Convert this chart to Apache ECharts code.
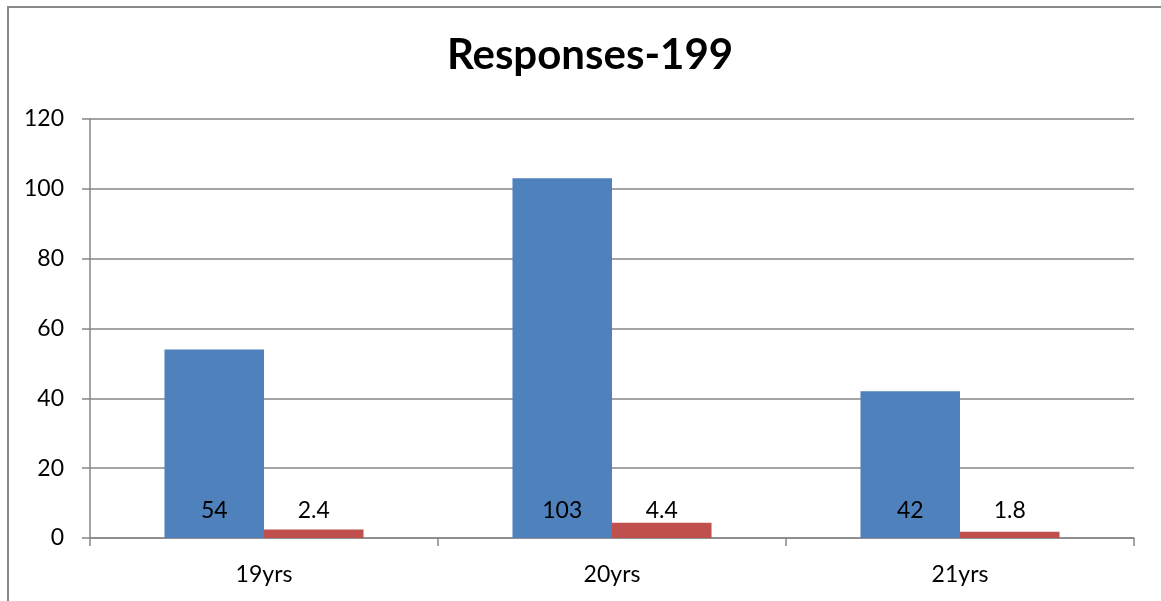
<!DOCTYPE html>
<html>
<head>
<meta charset="utf-8">
<script src="https://cdn.jsdelivr.net/npm/echarts@6/dist/echarts.min.js"></script>
<style>html,body{margin:0;padding:0;background:#fff}#c{width:1161px;height:601px}</style>
</head>
<body>
<div id="c"></div>
<script>
var categories = ['19yrs', '20yrs', '21yrs'];
var seriesA = [54, 103, 42];
var seriesB = [2.4, 4.4, 1.8];
var yTicks = [0, 20, 40, 60, 80, 100, 120];

var FONT = 'Lato';
var chart = echarts.init(document.getElementById('c'), null, {renderer: 'canvas'});
var labelCfg = {
  show: true, position: 'insideBottom', distance: 16,
  color: '#000', fontFamily: FONT, fontSize: 23
};
chart.setOption({
  animation: false,
  backgroundColor: '#fff',
  graphic: [{
    type: 'rect', silent: true,
    shape: {x: 8, y: 7, width: 1200, height: 700},
    style: {fill: 'none', stroke: '#898989', lineWidth: 2}
  }],
  title: {
    text: 'Responses-199',
    left: 585, top: 29, textAlign: 'center',
    textStyle: {fontFamily: FONT, fontWeight: 'bold', fontSize: 42, color: '#000'}
  },
  grid: {left: 90, right: 27, top: 119, bottom: 63, containLabel: false},
  xAxis: {
    type: 'category', data: categories,
    axisLine: {lineStyle: {color: '#868686', width: 1.5}},
    axisTick: {show: true, length: 8, inside: false, lineStyle: {color: '#868686', width: 1.5}},
    axisLabel: {color: '#000', fontFamily: FONT, fontSize: 23, margin: 25}
  },
  yAxis: {
    type: 'value', min: yTicks[0], max: yTicks[yTicks.length - 1], interval: 20,
    axisLine: {show: true, lineStyle: {color: '#868686', width: 1.5}},
    axisTick: {show: true, length: 8, lineStyle: {color: '#868686', width: 1.5}},
    splitLine: {lineStyle: {color: '#868686', width: 1.5}},
    axisLabel: {color: '#000', fontFamily: FONT, fontSize: 23, margin: 26}
  },
  series: [
    {type: 'bar', data: seriesA, barGap: '0%', barCategoryGap: '42.8%',
     itemStyle: {color: '#4F81BD'}, label: labelCfg},
    {type: 'bar', data: seriesB, barGap: '0%', barCategoryGap: '42.8%',
     itemStyle: {color: '#C0504D'}, label: labelCfg}
  ]
});
</script>
</body>
</html>
